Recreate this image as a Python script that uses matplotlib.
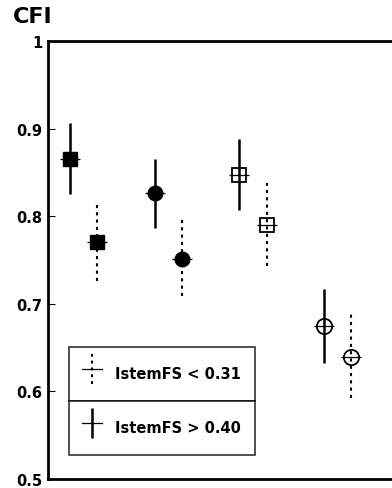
import matplotlib
matplotlib.use("Agg")
import matplotlib.pyplot as plt
from matplotlib.legend_handler import HandlerErrorbar

plt.rcParams['font.family'] = ['DejaVu Sans']

groups = [1, 2, 3, 4]
markers = ['s', 'o', 's', 'o']
filled = [True, True, False, False]

hi_mean = [0.865, 0.826, 0.847, 0.675]
hi_upper = [0.906, 0.865, 0.888, 0.717]
hi_lower = [0.825, 0.786, 0.807, 0.632]

lo_mean = [0.770, 0.751, 0.790, 0.639]
lo_upper = [0.814, 0.798, 0.838, 0.690]
lo_lower = [0.726, 0.709, 0.743, 0.592]

legend_labels = ["IstemFS < 0.31", "IstemFS > 0.40"]
yticks = [0.5, 0.6, 0.7, 0.8, 0.9, 1.0]
yticklabels = ["0.5", "0.6", "0.7", "0.8", "0.9", "1"]

offset = 0.16

fig = plt.figure(figsize=(3.92, 4.89), dpi=100)
ax = fig.add_axes([48/392, 9/489, 1 - 48/392, 438/489])

x_hi = [g - offset for g in groups]
x_lo = [g + offset for g in groups]

ax.errorbar(x_hi, hi_mean,
            yerr=[[m - l for m, l in zip(hi_mean, hi_lower)], [u - m for m, u in zip(hi_mean, hi_upper)]],
            fmt='none', ecolor='black', elinewidth=1.8, capsize=0)
eb_lo = ax.errorbar(x_lo, lo_mean,
            yerr=[[m - l for m, l in zip(lo_mean, lo_lower)], [u - m for m, u in zip(lo_mean, lo_upper)]],
            fmt='none', ecolor='black', elinewidth=1.5, capsize=0)
eb_lo[2][0].set_linestyle((0, (1.5, 2.0)))

for xs, ys in [(x_hi, hi_mean), (x_lo, lo_mean)]:
    for x, y, mk, f in zip(xs, ys, markers, filled):
        ax.plot([x], [y], marker='_', markersize=14, color='black', markeredgewidth=0.9, zorder=3)
        if f:
            ax.plot([x], [y], marker=mk, markersize=9.5 if mk == 's' else 10.5,
                    color='black', zorder=4)
        else:
            ax.plot([x], [y], marker=mk, markersize=10 if mk == 's' else 11,
                    markerfacecolor='none', markeredgecolor='black', markeredgewidth=1.3, zorder=4)

ax.set_xlim(0.58, 4.64)
ax.set_ylim(0.5, 1.0)
ax.set_xticks([])
ax.set_yticks(yticks)
ax.set_yticklabels(yticklabels, fontsize=10.5, fontweight='bold')
ax.tick_params(axis='y', direction='in', length=5, width=0.8, pad=4)
ax.spines['right'].set_visible(False)
for s in ['left', 'top', 'bottom']:
    ax.spines[s].set_linewidth(2.0)

fig.text(13/392, 1 - 23/489, "CFI", fontsize=16, fontweight='bold', ha='left', va='baseline')

# legend handles
h_lo = ax.errorbar([], [], yerr=[], fmt='-', color='black', lw=0.9, elinewidth=1.4, capsize=0)
h_lo[2][0].set_linestyle((0, (1.5, 2.0)))
h_hi = ax.errorbar([], [], yerr=[], fmt='-', color='black', lw=0.9, elinewidth=1.8, capsize=0)

hm = {type(h_lo): HandlerErrorbar(yerr_size=1.0)}
ax_w = 344
x0 = (69 - 48) / ax_w
w = (255 - 69) / ax_w
def ax_y(py):
    return (480 - py) / 438

leg_kw = dict(loc='upper left', mode='expand', prop={'weight': 'bold', 'size': 10.5},
              frameon=True, fancybox=False, edgecolor='black', handlelength=1.4,
              handleheight=2.7, handletextpad=0.9, borderpad=0.86, borderaxespad=0,
              handler_map=hm)
leg1 = ax.legend([h_lo], [legend_labels[0]], bbox_to_anchor=(x0, ax_y(348) - 0.12, w, 0.12), **leg_kw)
leg1.get_frame().set_linewidth(1.2)
ax.add_artist(leg1)
leg2 = ax.legend([h_hi], [legend_labels[1]], bbox_to_anchor=(x0, ax_y(402) - 0.12, w, 0.12), **leg_kw)
leg2.get_frame().set_linewidth(1.2)

fig.savefig("out.png", dpi=100)
